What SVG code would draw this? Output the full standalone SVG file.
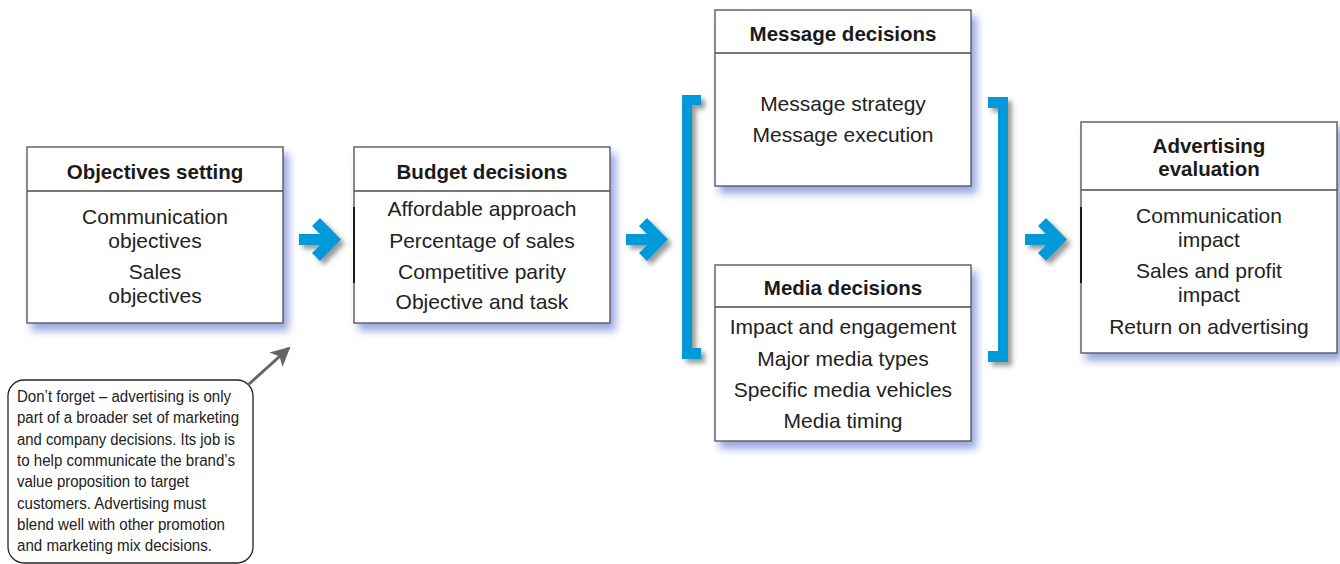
<svg xmlns="http://www.w3.org/2000/svg" width="1340" height="564" viewBox="0 0 1340 564">
  <style>
    .box { fill: #ffffff; stroke: #4d4d4d; stroke-width: 1.3; }
    .div { stroke: #4d4d4d; stroke-width: 1.3; }
    .title { font-family: "Liberation Sans", Arial, sans-serif; font-weight: bold; font-size: 20.5px; fill: #1a1a1a; text-anchor: middle; }
    .body { font-family: "Liberation Sans", Arial, sans-serif; font-size: 21px; fill: #222222; text-anchor: middle; }
    .note { font-family: "Liberation Sans Narrow", "Liberation Sans", Arial, sans-serif; font-size: 16px; fill: #222222; }
    .blue { fill: #009ad9; }
    .edge { stroke: #1a1a1a; stroke-width: 2; }
  </style>
  <defs>
    <filter id="boxShadow" x="-10%" y="-10%" width="130%" height="130%">
      <feGaussianBlur in="SourceAlpha" stdDeviation="4.5"/>
      <feOffset dx="5" dy="7" result="b"/>
      <feFlood flood-color="#7486d6" flood-opacity="0.75"/>
      <feComposite in2="b" operator="in"/>
      <feMerge><feMergeNode/><feMergeNode in="SourceGraphic"/></feMerge>
    </filter>
    <filter id="grayShadow" x="-30%" y="-10%" width="160%" height="130%">
      <feGaussianBlur in="SourceAlpha" stdDeviation="2.5"/>
      <feOffset dx="4" dy="4" result="b"/>
      <feFlood flood-color="#555555" flood-opacity="0.6"/>
      <feComposite in2="b" operator="in"/>
      <feMerge><feMergeNode/><feMergeNode in="SourceGraphic"/></feMerge>
    </filter>
    <marker id="grayHead" viewBox="0 0 10 10" refX="9" refY="5" markerWidth="6.5" markerHeight="6.5" orient="auto" markerUnits="strokeWidth">
      <path d="M0,0 L10,5 L0,10 L2.5,5 Z" fill="#666666"/>
    </marker>
  </defs>

  <!-- Nodes -->
  <g id="objectives">
    <rect class="box" x="27" y="147" width="256" height="176" filter="url(#boxShadow)"/>
    <line class="div" x1="27" y1="191" x2="283" y2="191"/>
    <text class="title" x="155" y="179">Objectives setting</text>
    <text class="body" x="155" y="224">Communication</text>
    <text class="body" x="155" y="248">objectives</text>
    <text class="body" x="155" y="279">Sales</text>
    <text class="body" x="155" y="303">objectives</text>
  </g>

  <g id="budget">
    <rect class="box" x="354" y="147" width="256" height="176" filter="url(#boxShadow)"/>
    <line class="div" x1="354" y1="191" x2="610" y2="191"/>
    <line class="edge" x1="354" y1="207" x2="354" y2="283"/>
    <text class="title" x="482" y="179">Budget decisions</text>
    <text class="body" x="482" y="216">Affordable approach</text>
    <text class="body" x="482" y="248">Percentage of sales</text>
    <text class="body" x="482" y="279">Competitive parity</text>
    <text class="body" x="482" y="309">Objective and task</text>
  </g>

  <g id="message">
    <rect class="box" x="715" y="10" width="256" height="176" filter="url(#boxShadow)"/>
    <line class="div" x1="715" y1="53" x2="971" y2="53"/>
    <text class="title" x="843" y="41">Message decisions</text>
    <text class="body" x="843" y="111">Message strategy</text>
    <text class="body" x="843" y="142">Message execution</text>
  </g>

  <g id="media">
    <rect class="box" x="715" y="265" width="256" height="176" filter="url(#boxShadow)"/>
    <line class="div" x1="715" y1="307" x2="971" y2="307"/>
    <text class="title" x="843" y="295">Media decisions</text>
    <text class="body" x="843" y="334">Impact and engagement</text>
    <text class="body" x="843" y="366">Major media types</text>
    <text class="body" x="843" y="397">Specific media vehicles</text>
    <text class="body" x="843" y="428">Media timing</text>
  </g>

  <g id="evaluation">
    <rect class="box" x="1081" y="122" width="256" height="231" filter="url(#boxShadow)"/>
    <line class="div" x1="1081" y1="190" x2="1337" y2="190"/>
    <line class="edge" x1="1081" y1="207" x2="1081" y2="283"/>
    <text class="title" x="1209" y="153">Advertising</text>
    <text class="title" x="1209" y="176">evaluation</text>
    <text class="body" x="1209" y="223">Communication</text>
    <text class="body" x="1209" y="247">impact</text>
    <text class="body" x="1209" y="278">Sales and profit</text>
    <text class="body" x="1209" y="302">impact</text>
    <text class="body" x="1209" y="334">Return on advertising</text>
  </g>

  <g id="note">
    <rect x="8" y="380" width="245" height="183" rx="16" ry="16" fill="#ffffff" stroke="#222222" stroke-width="1.3"/>
    <text class="note" x="17" y="402" textLength="214" lengthAdjust="spacingAndGlyphs">Don’t forget – advertising is only</text>
    <text class="note" x="17" y="423.4" textLength="222" lengthAdjust="spacingAndGlyphs">part of a broader set of marketing</text>
    <text class="note" x="17" y="444.7" textLength="218" lengthAdjust="spacingAndGlyphs">and company decisions. Its job is</text>
    <text class="note" x="17" y="466" textLength="218" lengthAdjust="spacingAndGlyphs">to help communicate the brand’s</text>
    <text class="note" x="17" y="487.4" textLength="172" lengthAdjust="spacingAndGlyphs">value proposition to target</text>
    <text class="note" x="17" y="508.7" textLength="189" lengthAdjust="spacingAndGlyphs">customers. Advertising must</text>
    <text class="note" x="17" y="530" textLength="208" lengthAdjust="spacingAndGlyphs">blend well with other promotion</text>
    <text class="note" x="17" y="551.4" textLength="195" lengthAdjust="spacingAndGlyphs">and marketing mix decisions.</text>
  </g>

  <!-- Connectors -->
  <g id="connectors">
    <g filter="url(#grayShadow)">
      <polygon class="blue" points="299,234 320,234 312,226 320,218 341,239.5 320,261 312,253 320,245 299,245"/>
      <polygon class="blue" points="626,234 647,234 639,226 647,218 668,239.5 647,261 639,253 647,245 626,245"/>
      <polygon class="blue" points="1025,234 1046,234 1038,226 1046,218 1067,239.5 1046,261 1038,253 1046,245 1025,245"/>
      <path class="blue" d="M682,95 H701 V105 H692 V348 H701 V359 H682 Z"/>
      <path class="blue" d="M1008,97 H988 V108 H998 V351 H988 V362 H1008 Z"/>
    </g>
    <line x1="248" y1="385" x2="289" y2="348" stroke="#666666" stroke-width="3" marker-end="url(#grayHead)"/>
  </g>
</svg>
